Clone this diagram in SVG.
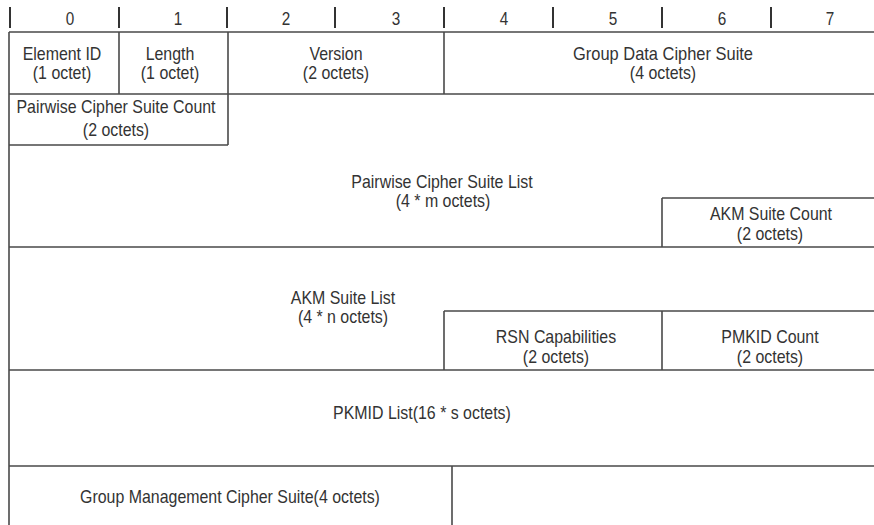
<svg xmlns="http://www.w3.org/2000/svg" width="874" height="525" viewBox="0 0 874 525">
<style>
.t{font-family:"Liberation Sans",Arial,sans-serif;font-size:17.5px;fill:#333;text-anchor:middle}
.h{font-family:"Liberation Sans",Arial,sans-serif;font-size:18px;fill:#333;text-anchor:middle}
.l{stroke:#4a4a4a;stroke-width:1.6;fill:none}
.tk{stroke:#333;stroke-width:2;fill:none}
</style>
<rect width="874" height="525" fill="#fff"/>
<g id="header">
<path class="tk" d="M10 7V28M119 7V28M227 7V28M335 7V28M444 7V28M553 7V28M662 7V28M771 7V28"/>
<text class="h" transform="translate(70 25) scale(0.85 1)">0</text>
<text class="h" transform="translate(178 25) scale(0.85 1)">1</text>
<text class="h" transform="translate(286 25) scale(0.85 1)">2</text>
<text class="h" transform="translate(396 25) scale(0.85 1)">3</text>
<text class="h" transform="translate(504 25) scale(0.85 1)">4</text>
<text class="h" transform="translate(613 25) scale(0.85 1)">5</text>
<text class="h" transform="translate(722 25) scale(0.85 1)">6</text>
<text class="h" transform="translate(830 25) scale(0.85 1)">7</text>
</g>
<g id="connectors">
<path class="l" d="M9 32H874M9 94H874M9 145H228M9 247H874M9 370H874M9 466H874"/>
<path class="l" d="M9 32V525M119 32V94M228 32V145M444 32V94M662 198V247M662 198H874M444 311H874M444 311V370M662 311V370M452 466V525"/>
</g>
<g id="element-id"><text class="t" transform="translate(62 60) scale(0.91 1)">Element ID</text><text class="t" transform="translate(62 79) scale(0.91 1)">(1 octet)</text></g>
<g id="length"><text class="t" transform="translate(170 60) scale(0.91 1)">Length</text><text class="t" transform="translate(170 79) scale(0.91 1)">(1 octet)</text></g>
<g id="version"><text class="t" transform="translate(336 60) scale(0.91 1)">Version</text><text class="t" transform="translate(336 79) scale(0.91 1)">(2 octets)</text></g>
<g id="group-data"><text class="t" transform="translate(663 60) scale(0.94 1)">Group Data Cipher Suite</text><text class="t" transform="translate(663 79) scale(0.91 1)">(4 octets)</text></g>
<g id="pairwise-count"><text class="t" transform="translate(116 113) scale(0.91 1)">Pairwise Cipher Suite Count</text><text class="t" transform="translate(116 136) scale(0.91 1)">(2 octets)</text></g>
<g id="pairwise-list"><text class="t" transform="translate(442 188) scale(0.91 1)">Pairwise Cipher Suite List</text><text class="t" transform="translate(443 207) scale(0.91 1)">(4 * m octets)</text></g>
<g id="akm-count"><text class="t" transform="translate(771 220) scale(0.91 1)">AKM Suite Count</text><text class="t" transform="translate(770 240) scale(0.91 1)">(2 octets)</text></g>
<g id="akm-list"><text class="t" transform="translate(343 304) scale(0.91 1)">AKM Suite List</text><text class="t" transform="translate(343 323) scale(0.91 1)">(4 * n octets)</text></g>
<g id="rsn"><text class="t" transform="translate(556 343) scale(0.91 1)">RSN Capabilities</text><text class="t" transform="translate(556 363) scale(0.91 1)">(2 octets)</text></g>
<g id="pmkid-count"><text class="t" transform="translate(770 343) scale(0.91 1)">PMKID Count</text><text class="t" transform="translate(770 363) scale(0.91 1)">(2 octets)</text></g>
<g id="pkmid-list"><text class="t" transform="translate(422 419) scale(0.91 1)">PKMID List(16 * s octets)</text></g>
<g id="group-mgmt"><text class="t" transform="translate(230 503) scale(0.91 1)">Group Management Cipher Suite(4 octets)</text></g>
</svg>
